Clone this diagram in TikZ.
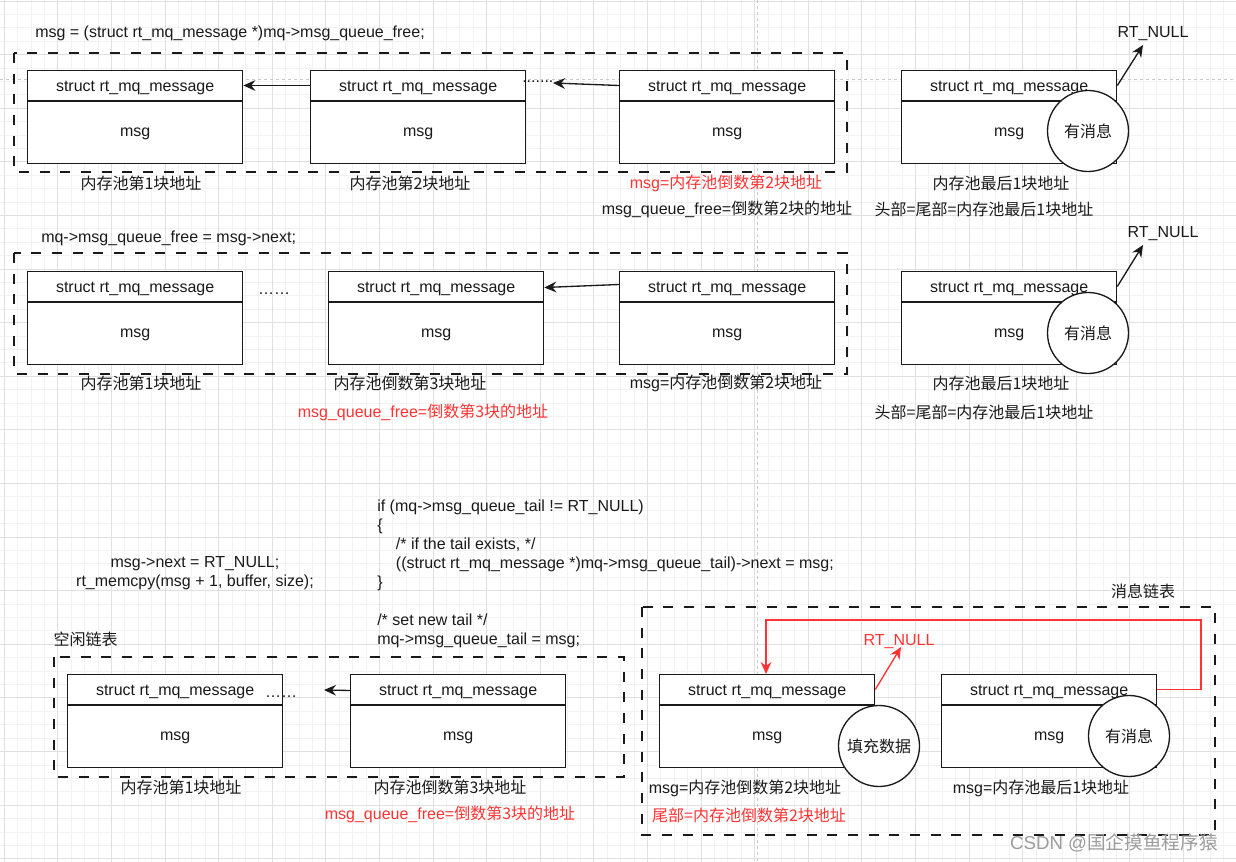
\documentclass[tikz,border=0pt]{standalone}
\usepackage{fontspec}
\setmainfont{Liberation Sans}
\newfontfamily\cjk{Noto Sans CJK SC}
\usetikzlibrary{arrows.meta,calc}

\newcommand\zh[1]{{\cjk #1}}

\definecolor{ink}{HTML}{1A1A1A}
\definecolor{alert}{HTML}{FF3333}
\definecolor{gridminor}{HTML}{F2F2F2}
\definecolor{gridmajor}{HTML}{E0E0E0}
\definecolor{guide}{HTML}{C8C8C8}
\definecolor{mark}{HTML}{9C9C9C}

\tikzset{
  x=0.75pt, y=-0.75pt,
  txt/.style={font=\fontsize{12}{14.25}\selectfont, inner sep=0pt, text=ink},
  redtxt/.style={txt, text=alert},
  mq frame/.style={draw=ink, line width=1pt, fill=white, inner sep=0pt,
    minimum width=161.25pt, minimum height=69.75pt},
  group frame/.style={draw=ink, line width=1.1pt, dash pattern=on 7.5pt off 8pt},
  flag/.style={circle, draw=ink, line width=1pt, fill=white, minimum size=60.75pt,
    inner sep=0pt, font=\fontsize{12}{14.25}\selectfont, text=ink},
  link/.style={draw=ink, line width=1pt, -{Stealth[length=9pt, width=8pt, inset=3pt]}},
  redlink/.style={draw=alert, line width=1pt, -{Stealth[length=9pt, width=8pt, inset=3pt]}},
}

% a message block: header "struct rt_mq_message" over a "msg" body
\newcommand\mqblock[3]{%
  \node[mq frame, anchor=north west] (#1) at (#2,#3) {};
  \draw[ink, line width=1pt] ($(#1.north west)+(0,31)$) -- ($(#1.north east)+(0,31)$);
  \node[txt] (#1-h) at ($(#1.north)+(0,17.5)$) {struct rt\_mq\_message};
  \node[txt] (#1-b) at ($(#1.north)+(0,64)$) {msg};
}

\begin{document}
\begin{tikzpicture}
\useasboundingbox (0,0) rectangle (1236,862);
\fill[white] (0,0) rectangle (1236,862);

% background grid
\foreach \k in {0,...,92} \draw[gridminor, line width=0.75pt] ({4.2+13.4*\k},0) -- ++(0,862);
\foreach \k in {0,...,64} \draw[gridminor, line width=0.75pt] (0,{1.2+13.4*\k}) -- ++(1236,0);
\foreach \k in {0,...,23} \draw[gridmajor, line width=0.75pt] ({4.2+53.6*\k},0) -- ++(0,862);
\foreach \k in {0,...,16} \draw[gridmajor, line width=0.75pt] (0,{1.2+53.6*\k}) -- ++(1236,0);

% alignment guides
\draw[guide, line width=0.75pt, dash pattern=on 2.5pt off 2pt] (0,80) -- (1236,80);
\draw[guide, line width=0.75pt, dash pattern=on 2.5pt off 2pt] (757,0) -- (757,862);

% ---------------- step 1: take a block from the free list ----------------
\node[txt, anchor=west] (t1) at (35,33.5) {msg = (struct rt\_mq\_message *)mq->msg\_queue\_free;};
\draw[group frame] (14,53) rectangle (847,172);
\mqblock{a1}{27}{70}
\mqblock{a2}{310}{70}
\mqblock{a3}{619}{70}
\mqblock{a4}{901}{70}
\node[txt, anchor=west] (a2dots) at (522,81.5) {.......};
\coordinate (a3tip) at (553,83);
\draw[link] ($(a2-h -| a2.west)+(0,-2)$) -- ($(a2-h -| a1.east)+(0,-2)$);
\draw[link] ($(a3-h -| a3.west)+(0,-2)$) -- (a3tip);
\node[flag] (a4c) at (1088,131) {\zh{有消息}};
\node[txt] (n1) at (1153,33.5) {RT\_NULL};
\coordinate (n1tip) at (1143,45);
\draw[link] ($(a4-h -| a4.east)+(0,-2)$) -- (n1tip);
\node[txt] (l11) at (141,183) {\zh{内存池第1块地址}};
\node[txt] (l12) at (410,183) {\zh{内存池第2块地址}};
\node[redtxt] (l13) at (726,183) {msg=\zh{内存池倒数第2块地址}};
\node[txt] (l14) at (727,209.5) {msg\_queue\_free=\zh{倒数第2块的地址}};
\node[txt] (l15) at (1001,183) {\zh{内存池最后1块地址}};
\node[txt] (l16) at (984,209.5) {\zh{头部=尾部=内存池最后1块地址}};

% ---------------- step 2: advance the free list ----------------
\node[txt, anchor=west] (t2) at (41,238) {mq->msg\_queue\_free = msg->next;};
\draw[group frame] (14,253) rectangle (847,374);
\mqblock{b1}{27}{271}
\mqblock{b2}{328}{271}
\mqblock{b3}{619}{271}
\mqblock{b4}{901}{271}
\node[txt] (b1dots) at (274,294) {……};
\draw[link] ($(b3-h -| b3.west)+(0,-4)$) -- ($(b2-h -| b2.east)+(0,-1)$);
\node[flag] (b4c) at (1088,333) {\zh{有消息}};
\node[txt] (n2) at (1163,233.5) {RT\_NULL};
\coordinate (n2tip) at (1143,245);
\draw[link] ($(b4-h -| b4.east)+(0,-2)$) -- (n2tip);
\node[txt] (l21) at (141,383) {\zh{内存池第1块地址}};
\node[txt] (l22) at (410,383) {\zh{内存池倒数第3块地址}};
\node[txt] (l23) at (726,383) {msg=\zh{内存池倒数第2块地址}};
\node[redtxt] (l24) at (423,412) {msg\_queue\_free=\zh{倒数第3块的地址}};
\node[txt] (l25) at (1001,383) {\zh{内存池最后1块地址}};
\node[txt] (l26) at (984,412) {\zh{头部=尾部=内存池最后1块地址}};

% ---------------- step 3: fill the block and append it to the queue ----------------
\node[txt, align=center] (fill) at (195,573.5) {msg->next = RT\_NULL;\\rt\_memcpy(msg + 1, buffer, size);};
\node[txt, align=left, anchor=north west] (code) at (377,499.5) {%
if (mq->msg\_queue\_tail != RT\_NULL)\\
\{\\
\hspace*{14pt}/* if the tail exists, */\\
\hspace*{14pt}((struct rt\_mq\_message *)mq->msg\_queue\_tail)->next = msg;\\
\}\\[14.25pt]
/* set new tail */\\
mq->msg\_queue\_tail = msg;};

% free list
\node[txt] (freecap) at (85.5,639) {\zh{空闲链表}};
\draw[group frame] (54,657) rectangle (624,777);
\mqblock{c1}{67}{674}
\mqblock{c2}{350}{674}
\node[txt] (c1dots) at (281,697) {……};
\coordinate (c2tip) at (324,690);
\draw[link] ($(c2-h -| c2.west)+(0,-1)$) -- (c2tip);
\node[txt] (l31) at (181,787) {\zh{内存池第1块地址}};
\node[txt] (l32) at (450,787) {\zh{内存池倒数第3块地址}};
\node[redtxt] (l33) at (450,814) {msg\_queue\_free=\zh{倒数第3块的地址}};

% message list
\node[txt] (msgcap) at (1143,591) {\zh{消息链表}};
\draw[group frame] (642,607) rectangle (1215,835);
\mqblock{d1}{659}{674}
\mqblock{d2}{941}{674}
\coordinate (loopR) at (1201,620);
\coordinate (loopL) at (766,620);
\draw[redlink] ($(d2-h -| d2.east)+(0,-2)$) -| (loopR) -- (loopL) -- (loopL |- d1.north);
\node[redtxt] (n3) at (899,641.5) {RT\_NULL};
\coordinate (n3tip) at (901,647);
\draw[redlink] ($(d1-h -| d1.east)+(0,-2)$) -- (n3tip);
\node[flag] (d1c) at (879,746) {\zh{填充数据}};
\node[flag] (d2c) at (1129,736) {\zh{有消息}};
\node[txt] (l41) at (745,788) {msg=\zh{内存池倒数第2块地址}};
\node[redtxt] (l42) at (749,815) {\zh{尾部=内存池倒数第2块地址}};
\node[txt] (l43) at (1041,788) {msg=\zh{内存池最后1块地址}};

% author mark
\node[font=\fontsize{14}{16}\selectfont, inner sep=0pt, text=mark] (wm) at (1114,843) {CSDN @\zh{国企摸鱼程序猿}};
\end{tikzpicture}
\end{document}
